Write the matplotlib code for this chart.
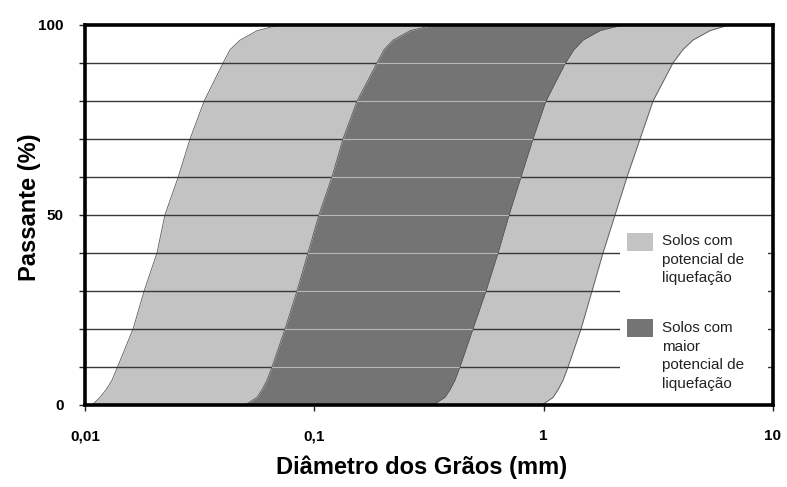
import numpy as np
import matplotlib.pyplot as plt
from matplotlib.patches import Rectangle

plt.rcParams['font.family'] = ['Liberation Sans', 'DejaVu Sans']

passante = [0, 2, 4, 6.5, 10, 20, 30, 40, 50, 60, 70, 80, 90, 93.5, 96, 98.5, 100]
limite_fino = [0.01073, 0.01162, 0.01235, 0.01311, 0.01386, 0.0162, 0.0181, 0.0206,
               0.0223, 0.0255, 0.0287, 0.0331, 0.0400, 0.04288, 0.04742, 0.05623, 0.07015]
limite_fino_maior = [0.04985, 0.05623, 0.05911, 0.06216, 0.06536, 0.0745, 0.0840, 0.0938,
                     0.1047, 0.1193, 0.1333, 0.1535, 0.1876, 0.2012, 0.2203, 0.2614, 0.3324]
limite_grosso_maior = [0.3291, 0.3714, 0.3904, 0.4106, 0.4317, 0.492, 0.561, 0.633,
                       0.707, 0.797, 0.899, 1.024, 1.245, 1.356, 1.484, 1.761, 2.218]
limite_grosso = [0.9833, 1.098, 1.155, 1.214, 1.277, 1.455, 1.625, 1.814,
                 2.047, 2.309, 2.631, 2.998, 3.66, 4.044, 4.469, 5.303, 6.417]

x_ticks = [0.01, 0.1, 1, 10]
x_tick_labels = ['0,01', '0,1', '1', '10']
y_ticks = [0, 10, 20, 30, 40, 50, 60, 70, 80, 90, 100]
y_tick_labels = ['0', '', '', '', '', '50', '', '', '', '', '100']
grid_levels = [10, 20, 30, 40, 50, 60, 70, 80, 90]

legenda = ['Solos com\npotencial de\nliquefação',
           'Solos com\nmaior\npotencial de\nliquefação']

LIGHT = '#c3c3c3'
DARK = '#747474'

fig = plt.figure(figsize=(7.87, 4.87), dpi=100)
ax = fig.add_axes([85 / 787, 1 - 405 / 487, 688 / 787, 380 / 487])

ax.fill_betweenx(passante, limite_fino, limite_fino_maior, color=LIGHT, lw=0, zorder=1)
dark = ax.fill_betweenx(passante, limite_fino_maior, limite_grosso_maior, color=DARK, lw=0, zorder=1)
ax.fill_betweenx(passante, limite_grosso_maior, limite_grosso, color=LIGHT, lw=0, zorder=1)
for curva in (limite_fino, limite_fino_maior, limite_grosso_maior, limite_grosso):
    ax.plot(curva, passante, color='#5a5a5a', lw=0.6, zorder=2)

# linhas de grade: escuras sobre branco/cinza claro, claras sobre a faixa escura
clip_path = dark.get_paths()[0]
for y in grid_levels:
    ax.axhline(y, color='#383838', lw=1.0, zorder=3)
    ln = ax.axhline(y, color='#b8b8b8', lw=1.0, zorder=3.5)
    ln.set_clip_path(clip_path, dark.get_transform())

ax.set_xscale('log')
ax.set_xlim(0.01, 10)
ax.set_ylim(0, 100)
ax.set_xticks(x_ticks)
ax.set_xticklabels(x_tick_labels)
ax.xaxis.set_minor_locator(plt.NullLocator())
ax.set_yticks(y_ticks)
ax.set_yticklabels(y_tick_labels)
ax.tick_params(axis='both', direction='out', length=4.5, width=1, color='#222222',
               labelsize=11)
ax.tick_params(axis='x', pad=13)
ax.tick_params(axis='y', pad=11)
for lab in ax.get_xticklabels() + ax.get_yticklabels():
    lab.set_fontweight('bold')

for side in ax.spines.values():
    side.set_linewidth(2.6)
    side.set_color('black')
    side.set_zorder(6)

# legenda desenhada manualmente (caixa branca sem borda)
ax.add_patch(Rectangle((0.778, 0.005), 0.215, 0.47, transform=ax.transAxes,
                       facecolor='white', edgecolor='none', zorder=5))
ax.add_patch(Rectangle((0.788, 0.405), 0.038, 0.047, transform=ax.transAxes,
                       facecolor=LIGHT, edgecolor='none', zorder=5.5))
ax.add_patch(Rectangle((0.788, 0.179), 0.038, 0.047, transform=ax.transAxes,
                       facecolor=DARK, edgecolor='none', zorder=5.5))
ax.text(0.839, 0.450, legenda[0], transform=ax.transAxes, ha='left', va='top',
        fontsize=11, color='#222222', linespacing=1.42, zorder=5.6)
ax.text(0.839, 0.221, legenda[1], transform=ax.transAxes, ha='left', va='top',
        fontsize=11, color='#222222', linespacing=1.42, zorder=5.6)

fig.text(30 / 787, 1 - 207 / 487, 'Passante (%)', rotation=90, ha='center', va='center',
         fontsize=17, fontweight='bold')
fig.text(422 / 787, 1 - 467 / 487, 'Diâmetro dos Grãos (mm)', ha='center', va='center',
         fontsize=17, fontweight='bold')

fig.savefig('out.png', dpi=100)
